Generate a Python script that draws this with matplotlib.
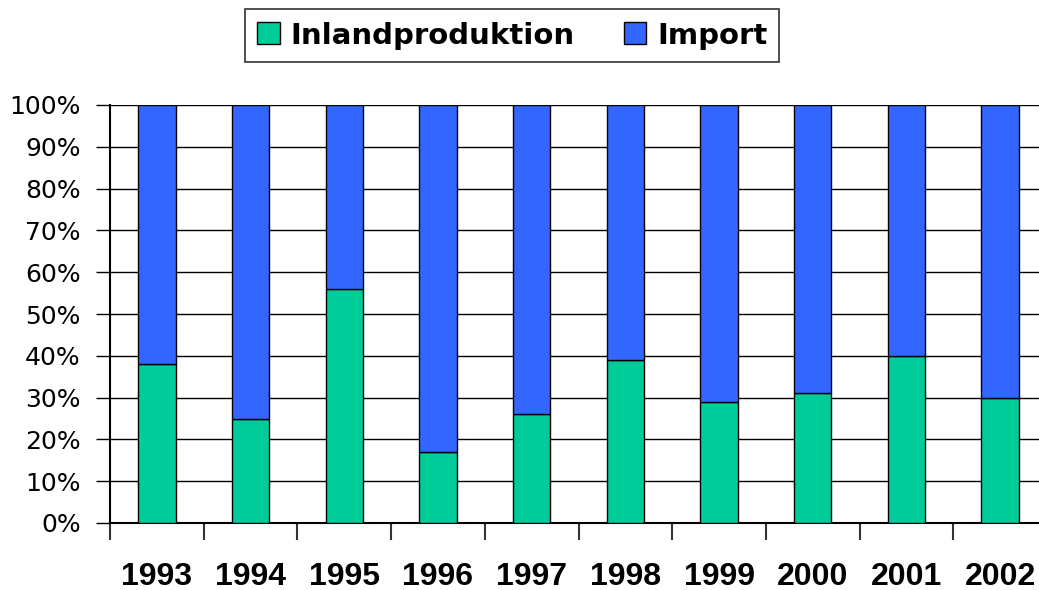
import matplotlib
matplotlib.use("Agg")
import matplotlib.pyplot as plt
import numpy as np
from matplotlib.ticker import FixedLocator, PercentFormatter

years = ["1993", "1994", "1995", "1996", "1997", "1998", "1999", "2000", "2001", "2002"]
inland = [38, 25, 56, 17, 26, 39, 29, 31, 40, 30]
imports = [100 - v for v in inland]

plt.rcParams['font.family'] = ['DejaVu Sans']

fig = plt.figure(figsize=(10.39, 5.90), dpi=100)
ax = fig.add_axes([110/1039, (590-523)/590, 937/1039, 418/590])

x = np.arange(len(years))
green = "#00CC99"
blue = "#3366FF"
ax.bar(x, inland, width=0.4, color=green, edgecolor="black", linewidth=1.0,
       label="Inlandproduktion", zorder=3)
ax.bar(x, imports, bottom=inland, width=0.4, color=blue, edgecolor="black",
       linewidth=1.0, label="Import", zorder=3)

ax.set_xlim(-0.5, len(years) - 0.5)
ax.set_ylim(0, 100)
ax.set_yticks(np.arange(0, 101, 10))
ax.yaxis.set_major_formatter(PercentFormatter(decimals=0))
ax.yaxis.grid(True, color="black", linewidth=1.0, zorder=0)
ax.set_axisbelow(True)

ax.set_xticks(x)
ax.set_xticklabels(years, fontsize=23, fontweight="bold",
                   family=["Liberation Sans", "DejaVu Sans"])
ax.xaxis.set_minor_locator(FixedLocator(np.arange(-0.5, len(years), 1.0)))
ax.tick_params(axis="x", which="major", length=0, pad=28)
ax.tick_params(axis="x", which="minor", length=12, width=1.5, direction="out", color="#333333")
ax.tick_params(axis="y", length=10, width=1.0, direction="out", labelsize=18, pad=11)

for side in ["top", "right"]:
    ax.spines[side].set_visible(False)
ax.spines["left"].set_linewidth(1.5)
ax.spines["bottom"].set_linewidth(1.5)

leg = fig.legend(loc="center", bbox_to_anchor=(512/1039, 1 - 35.5/590), ncol=2,
                 frameon=True, fancybox=False, edgecolor="black",
                 prop={"weight": "bold", "size": 21, "family": "DejaVu Sans"},
                 handlelength=0.78, handleheight=0.78, handletextpad=0.36,
                 columnspacing=1.7, borderpad=0.42)
leg.get_frame().set_linewidth(1.2)

fig.savefig("out.png", dpi=100)
